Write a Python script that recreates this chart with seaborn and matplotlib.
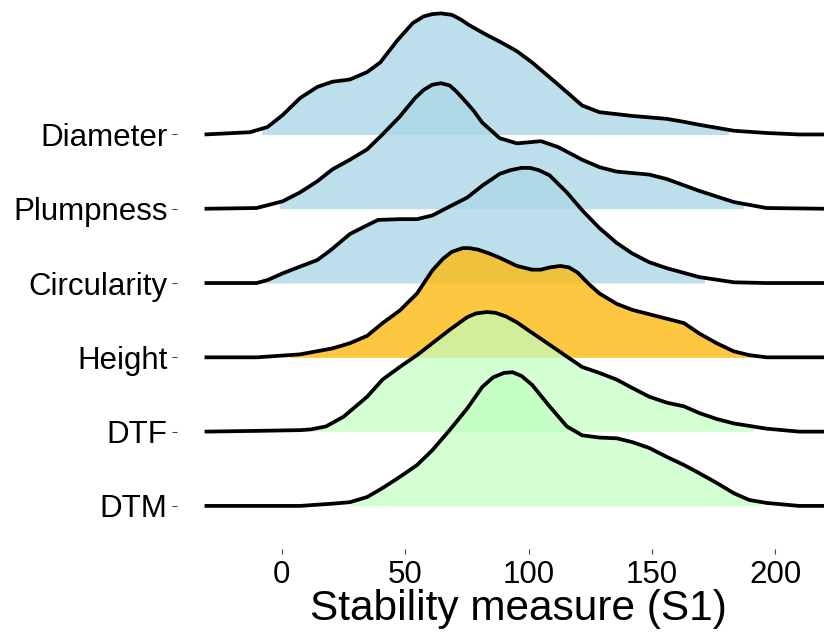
import numpy as np
import matplotlib
matplotlib.use('Agg')
import matplotlib.pyplot as plt
from matplotlib.patches import Rectangle
import seaborn as sns

# traits, top to bottom
traits = ['Diameter', 'Plumpness', 'Circularity', 'Height', 'DTF', 'DTM']

# ridge curves (x = S1, h = height in ridge units)
x_diameter = [-31.3, -12.9, -5.8, 0.3, 7.4, 14.4, 20.5, 27.6, 34.6, 39.9, 46.9, 53.1, 57.5, 61.0,
              64.5, 68.9, 72.4, 76.0, 83.0, 88.3, 95.3, 101.4, 108.5, 115.5, 121.7, 128.7, 141.9,
              156.0, 163.0, 169.2, 183.2, 196.4, 209.6, 220.1]
h_diameter = [0, 0.03, 0.10, 0.26, 0.49, 0.64, 0.71, 0.74, 0.84, 0.97, 1.27, 1.50, 1.59, 1.62,
              1.63, 1.61, 1.55, 1.47, 1.34, 1.25, 1.12, 0.97, 0.77, 0.57, 0.39, 0.30, 0.25, 0.21,
              0.17, 0.13, 0.05, 0.02, 0, 0]

x_plumpness = [-31.3, -10.2, 0.3, 7.4, 14.4, 20.5, 27.6, 34.6, 40.8, 47.8, 54.0, 57.5, 61.0, 64.5,
               68.0, 70.7, 75.1, 77.7, 81.2, 88.3, 95.3, 105.0, 112.0, 121.7, 128.7, 135.7, 148.9,
               156.0, 169.2, 183.2, 196.4, 220.1]
h_plumpness = [0, 0.01, 0.10, 0.22, 0.37, 0.53, 0.66, 0.80, 1.00, 1.24, 1.49, 1.60, 1.67, 1.69,
               1.66, 1.58, 1.42, 1.32, 1.16, 0.95, 0.88, 0.91, 0.83, 0.66, 0.56, 0.50, 0.46, 0.40,
               0.24, 0.09, 0.01, 0]

x_circularity = [-31.3, -10.2, -5.8, 0.3, 6.5, 14.4, 19.7, 27.6, 32.9, 39.0, 47.8, 54.8, 61.0,
                 68.0, 75.1, 81.2, 88.3, 92.7, 97.1, 100.6, 104.1, 108.5, 115.5, 121.7, 128.7,
                 135.7, 141.9, 148.9, 156.0, 169.2, 183.2, 196.4, 220.1]
h_circularity = [0, 0, 0.04, 0.13, 0.21, 0.31, 0.44, 0.66, 0.75, 0.85, 0.86, 0.86, 0.91, 1.03,
                 1.15, 1.31, 1.47, 1.52, 1.55, 1.55, 1.52, 1.45, 1.22, 0.98, 0.74, 0.54, 0.40,
                 0.28, 0.20, 0.08, 0.01, 0, 0]

x_height = [-31.3, -10.2, 7.4, 20.5, 27.6, 34.6, 40.8, 47.8, 54.8, 61.0, 65.4, 68.9, 73.3, 76.0,
            79.5, 83.9, 88.3, 95.3, 101.4, 105.0, 108.5, 112.9, 116.4, 119.9, 124.3, 128.7, 135.7,
            141.9, 156.0, 163.0, 169.2, 176.2, 183.2, 189.4, 196.4, 220.1]
h_height = [0, 0, 0.04, 0.12, 0.19, 0.29, 0.46, 0.63, 0.86, 1.17, 1.33, 1.42, 1.47, 1.47, 1.45,
            1.40, 1.34, 1.23, 1.18, 1.18, 1.21, 1.23, 1.21, 1.14, 0.99, 0.86, 0.72, 0.64, 0.52,
            0.46, 0.32, 0.19, 0.08, 0.03, 0, 0]

x_dtf = [-31.3, -10.2, 7.4, 11.8, 17.9, 25.0, 34.6, 40.8, 47.8, 54.8, 61.0, 68.0, 75.1, 78.6, 83.0,
         86.5, 90.9, 95.3, 101.4, 108.5, 115.5, 121.7, 128.7, 135.7, 141.9, 148.9, 156.0, 163.0,
         169.2, 176.2, 183.2, 196.4, 209.6, 220.1]
h_dtf = [0, 0.01, 0.02, 0.03, 0.07, 0.20, 0.47, 0.70, 0.87, 1.03, 1.19, 1.37, 1.54, 1.59, 1.61,
         1.60, 1.55, 1.47, 1.33, 1.17, 1.01, 0.87, 0.79, 0.70, 0.59, 0.47, 0.39, 0.34, 0.25, 0.17,
         0.11, 0.04, 0, 0]

x_dtm = [-31.3, 7.4, 20.5, 27.6, 34.6, 40.8, 47.8, 54.8, 61.0, 68.0, 75.1, 81.2, 85.6, 90.0, 93.5,
         97.1, 101.4, 108.5, 115.5, 121.7, 128.7, 135.7, 141.9, 148.9, 156.0, 163.0, 169.2, 176.2,
         183.2, 189.4, 196.4, 209.6, 220.1]
h_dtm = [0, 0, 0.03, 0.05, 0.12, 0.24, 0.39, 0.55, 0.75, 1.02, 1.31, 1.60, 1.73, 1.79, 1.80, 1.75,
         1.63, 1.34, 1.07, 0.95, 0.92, 0.91, 0.86, 0.78, 0.66, 0.55, 0.44, 0.31, 0.17, 0.08, 0.04,
         0, 0]

# shaded range of each ridge
fill_lo = [-8.0, -0.7, -10.8, 3.4, 12.6, 27.6]
fill_hi = [180.6, 186.7, 170.9, 191.1, 191.1, 193.8]

curves_x = [x_diameter, x_plumpness, x_circularity, x_height, x_dtf, x_dtm]
curves_h = [h_diameter, h_plumpness, h_circularity, h_height, h_dtf, h_dtm]
colors = ['#ADD8E6', '#ADD8E6', '#ADD8E6', '#FDBA12', '#C1FFC1', '#C1FFC1']
alphas = [0.8, 0.8, 0.8, 0.8, 0.7, 0.7]

sns.set_theme(style='white')
plt.rcParams['font.family'] = ['Liberation Sans', 'DejaVu Sans']

fig = plt.figure(figsize=(8.24, 6.33), dpi=100)
ax = fig.add_axes([0.215, 0.1327, 0.785, 0.8673])

n = len(traits)
for i, name in enumerate(traits):
    off = n - 1 - i
    xs = np.array(curves_x[i])
    hs = np.array(curves_h[i]) + off
    poly = ax.fill_between(xs, off, hs, color=colors[i], alpha=alphas[i], lw=0, zorder=2 * i)
    clip = Rectangle((fill_lo[i], off), fill_hi[i] - fill_lo[i], 10, transform=ax.transData)
    poly.set_clip_path(clip)
    sns.lineplot(x=xs, y=hs, ax=ax, color='black', lw=2.7, sort=False, zorder=2 * i + 1,
                 solid_joinstyle='round', solid_capstyle='butt')

ax.set_xlim(-42.4, 219.7)
ax.set_ylim(-0.58, 6.81)
ax.set_xticks([0, 50, 100, 150, 200])
ax.set_yticks(range(n))
ax.set_yticklabels(traits[::-1])
for s in ax.spines.values():
    s.set_visible(False)
ax.tick_params(axis='both', which='both', length=3.3, width=0.8, color='#444444',
               labelsize=22.5, labelcolor='black', left=True, bottom=True)
ax.tick_params(axis='x', pad=4.3)
ax.tick_params(axis='y', pad=3.6)
ax.set_xlabel('Stability measure (S1)', fontsize=30.5, color='black')
ax.xaxis.set_label_coords(0.527, -0.072)
ax.set_ylabel('')

fig.savefig('out.png', dpi=100)
